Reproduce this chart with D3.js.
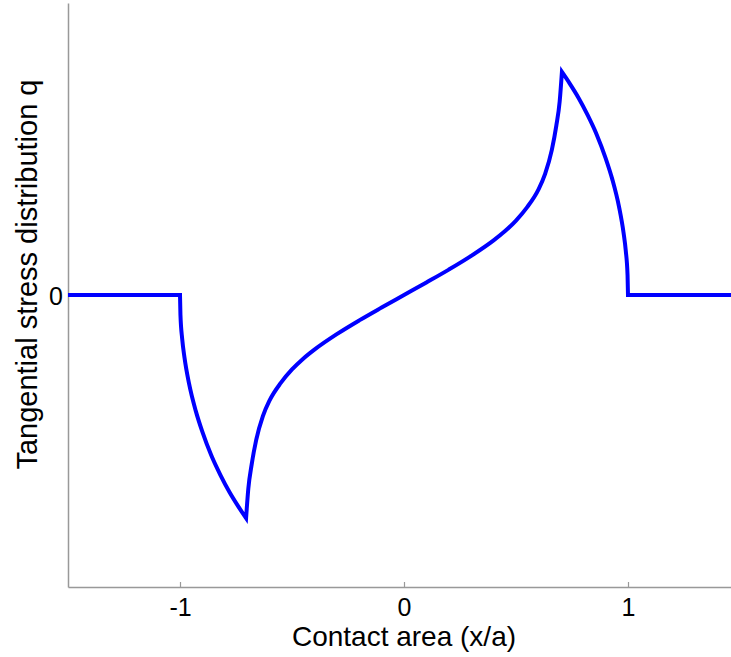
<!DOCTYPE html>
<html>
<head>
<meta charset="utf-8">
<script src="https://cdn.jsdelivr.net/npm/d3@7"></script>
<style>
  html, body { margin: 0; padding: 0; background: #fff; }
  svg { display: block; }
  text { font-family: "Liberation Sans", Arial, sans-serif; fill: #000; }
</style>
</head>
<body>
<svg id="chart" width="731" height="657"></svg>
<script>
// Contact position x/a, split where the curve has corners
const xFlatLeft  = [-1.5, -1.0];
const xOuterLeft = [-1.0, -0.998, -0.99, -0.98, -0.96, -0.93, -0.90, -0.86, -0.82, -0.78, -0.74, -0.705];
const xInner     = [-0.705, -0.695, -0.68, -0.66, -0.63, -0.60, -0.55, -0.50, -0.45, -0.40, -0.30, -0.20, -0.10, 0,
                    0.10, 0.20, 0.30, 0.40, 0.45, 0.50, 0.55, 0.60, 0.63, 0.66, 0.68, 0.695, 0.705];
const xOuterRight = [0.705, 0.74, 0.78, 0.82, 0.86, 0.90, 0.93, 0.96, 0.98, 0.99, 0.998, 1.0];
const xFlatRight = [1.0, 1.5];
// Tangential stress q (normalised)
const qFlatLeft  = [0, 0];
const qOuterLeft = [0, -0.068, -0.152, -0.214, -0.302, -0.396, -0.469, -0.550, -0.616, -0.674, -0.724, -0.764];
const qInner     = [-0.764, -0.663, -0.58, -0.497, -0.415, -0.361, -0.301, -0.255, -0.218, -0.187, -0.134, -0.087, -0.043, 0,
                    0.043, 0.087, 0.134, 0.187, 0.218, 0.255, 0.301, 0.361, 0.415, 0.497, 0.58, 0.663, 0.764];
const qOuterRight = [0.764, 0.724, 0.674, 0.616, 0.550, 0.469, 0.396, 0.302, 0.214, 0.152, 0.068, 0];
const qFlatRight = [0, 0];

const xTicks = [-1, 0, 1];
const xTickLabels = ["-1", "0", "1"];
const yTicks = [0];
const yTickLabels = ["0"];
const xTitle = "Contact area (x/a)";
const yTitle = "Tangential stress distribution q";

const svg = d3.select("#chart");
const mLeft = 68, mRight = 740, mTop = 3, mBottom = 587;

const x = d3.scaleLinear().domain([-1.5, 1.5]).range([mLeft, mRight]);
const y = d3.scaleLinear().domain([-1, 1]).range([mBottom, mTop]);

const axisColor = "#999";
const fontFam = "'Liberation Sans', Arial, sans-serif";

// Bottom axis
const xAxis = d3.axisBottom(x).tickValues(xTicks).tickSizeInner(-5).tickSizeOuter(0)
  .tickFormat((d, i) => xTickLabels[i]);
const gx = svg.append("g").attr("transform", `translate(0,${mBottom})`).call(xAxis);
gx.select(".domain").attr("stroke", axisColor).attr("stroke-width", 1.5);
gx.selectAll(".tick line").attr("stroke", axisColor).attr("stroke-width", 1.2);
gx.selectAll(".tick text").attr("font-size", 25).attr("y", 29).attr("dy", null)
  .style("font-family", fontFam).attr("fill", "#000");

// Left axis
const yAxis = d3.axisLeft(y).tickValues(yTicks).tickSize(0)
  .tickFormat((d, i) => yTickLabels[i]);
const gy = svg.append("g").attr("transform", `translate(${mLeft},0)`).call(yAxis);
gy.select(".domain").attr("stroke", axisColor).attr("stroke-width", 1.5);
gy.selectAll(".tick text").attr("font-size", 25).attr("x", -5).attr("dy", "0.36em")
  .style("font-family", fontFam).attr("fill", "#000");

// Titles
svg.append("text").attr("x", x(0)).attr("y", 646)
  .attr("text-anchor", "middle").attr("font-size", 28).text(xTitle);
svg.append("text").attr("transform", `translate(37,${y(0.07)}) rotate(-90)`)
  .attr("text-anchor", "middle").attr("font-size", 29).text(yTitle);

// Curve: built as one continuous path from its pieces
const toPts = (xs, qs) => xs.map((d, i) => [d, qs[i]]);
const straight = d3.line().x(d => x(d[0])).y(d => y(d[1])).curve(d3.curveLinear);
const smooth = d3.line().x(d => x(d[0])).y(d => y(d[1])).curve(d3.curveMonotoneX);
const pieces = [
  straight(toPts(xFlatLeft, qFlatLeft)),
  smooth(toPts(xOuterLeft, qOuterLeft)),
  smooth(toPts(xInner, qInner)),
  smooth(toPts(xOuterRight, qOuterRight)),
  straight(toPts(xFlatRight, qFlatRight))
];
const dPath = pieces.map((p, i) => i === 0 ? p : p.replace(/^M/, "L")).join("");
svg.append("path").attr("d", dPath)
  .attr("fill", "none").attr("stroke", "#0000ff").attr("stroke-width", 4)
  .attr("stroke-linejoin", "miter").attr("stroke-miterlimit", 10);
</script>
</body>
</html>
